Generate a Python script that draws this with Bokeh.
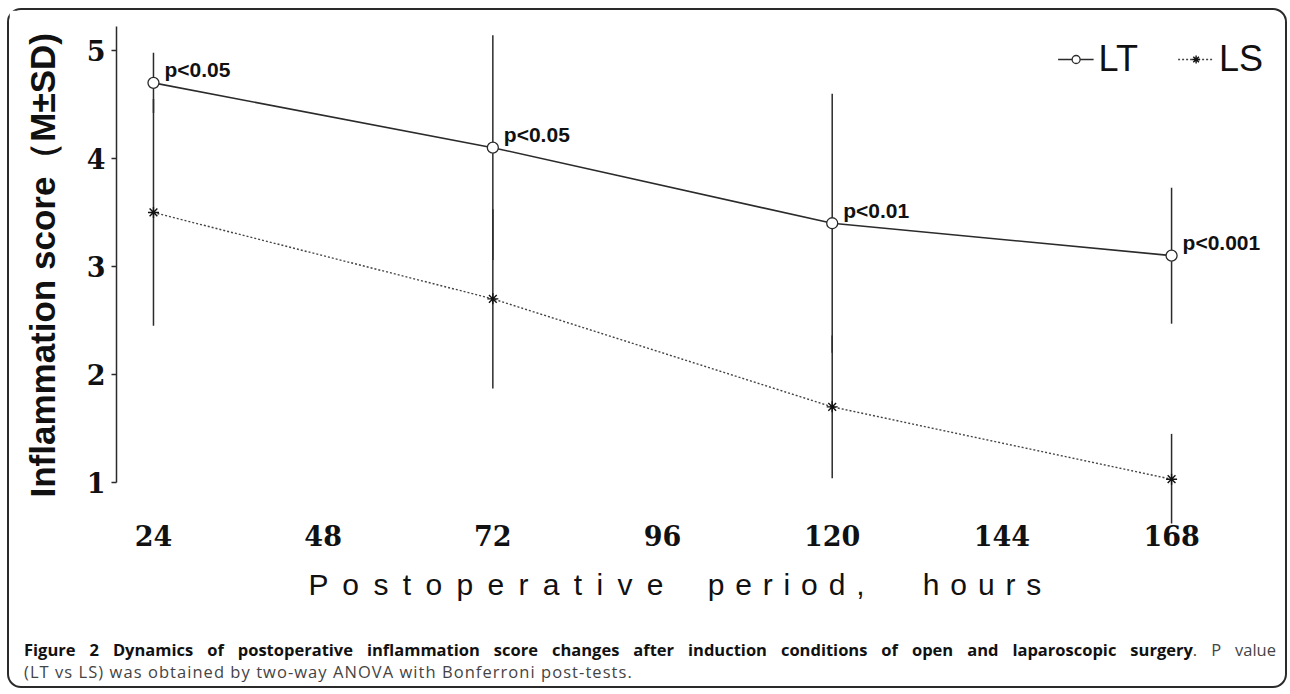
from bokeh.plotting import figure
from bokeh.models import Range1d, FixedTicker, Legend, LegendItem, Div
from bokeh.layouts import column
from bokeh.core.properties import value
from bokeh.embed import file_html
from bokeh.resources import INLINE

# ---- data ----
hours = [24, 72, 120, 168]
lt_mean = [4.7, 4.1, 3.4, 3.1]
lt_sd = [0.28, 1.04, 1.2, 0.63]
ls_mean = [3.5, 2.7, 1.7, 1.03]
ls_sd = [1.05, 0.83, 0.66, 0.42]
p_labels = ["p<0.05", "p<0.05", "p<0.01", "p<0.001"]
x_ticks = [24, 48, 72, 96, 120, 144, 168]
y_ticks = [1, 2, 3, 4, 5]

INK = "#2b2b2b"
W = 1266

p = figure(width=W, height=616, output_backend="svg", toolbar_location=None,
           x_range=Range1d(18.77, 182.7), y_range=Range1d(0.62, 5.222),
           min_border_left=107, min_border_right=0, min_border_top=16,
           min_border_bottom=103)
p.outline_line_color = None
p.grid.visible = False
p.background_fill_color = "white"
p.border_fill_color = "white"

# error bars
lt_lo = [m - s for m, s in zip(lt_mean, lt_sd)]
lt_hi = [m + s for m, s in zip(lt_mean, lt_sd)]
ls_lo = [m - s for m, s in zip(ls_mean, ls_sd)]
ls_hi = [m + s for m, s in zip(ls_mean, ls_sd)]
p.segment(x0=hours, y0=lt_lo, x1=hours, y1=lt_hi, line_color=INK, line_width=1.5)
p.segment(x0=hours, y0=ls_lo, x1=hours, y1=ls_hi, line_color=INK, line_width=1.5)

# series
lt_line = p.line(hours, lt_mean, line_color=INK, line_width=1.6)
lt_pts = p.scatter(hours, lt_mean, marker="circle", size=11, fill_color="white",
                   line_color=INK, line_width=1.3)
ls_line = p.line(hours, ls_mean, line_color="#444444", line_width=1.4, line_dash="2 2")
ls_pts = p.scatter(hours, ls_mean, marker="asterisk", size=11, line_color="#111111",
                   line_width=1.4)

# p-value labels
p.text(x=hours, y=lt_mean, text=p_labels, x_offset=11, y_offset=-13,
       text_baseline="alphabetic", text_align="left",
       text_font=value("Liberation Sans"), text_font_style="bold",
       text_font_size="21px", text_color="#111111")

# axes
p.yaxis.ticker = FixedTicker(ticks=y_ticks)
p.yaxis.bounds = (1, 5.222)
p.yaxis.axis_line_color = INK
p.yaxis.axis_line_width = 1.5
p.yaxis.major_tick_line_color = INK
p.yaxis.major_tick_line_width = 1.5
p.yaxis.major_tick_out = 5
p.yaxis.major_tick_in = 0
p.yaxis.minor_tick_line_color = None
p.yaxis.major_label_standoff = 6
p.yaxis.axis_label = "\u00a0\u00a0Inflammation score\uff08M\u00b1SD)"
p.yaxis.axis_label_text_font = "Liberation Sans"
p.yaxis.axis_label_text_font_style = "bold"
p.yaxis.axis_label_text_font_size = "35px"
p.yaxis.axis_label_text_color = "#111111"
p.yaxis.axis_label_standoff = 22

p.xaxis.ticker = FixedTicker(ticks=x_ticks)
p.xaxis.axis_line_color = None
p.xaxis.major_tick_line_color = None
p.xaxis.minor_tick_line_color = None
p.xaxis.major_label_standoff = -5
wide_gap = " \u2009"
gap = " \u200a"
x_title = (wide_gap.join("Postoperative") + "\u00a0" * 4 + gap +
           gap.join("period,") + "\u00a0" * 7 +
           gap.join("hours") + "\u00a0" * 5)
p.xaxis.axis_label = x_title
p.xaxis.axis_label_text_font = "Liberation Sans"
p.xaxis.axis_label_text_font_style = "normal"
p.xaxis.axis_label_text_font_size = "30px"
p.xaxis.axis_label_text_color = "#111111"
p.xaxis.axis_label_standoff = 19

for ax in (p.xaxis, p.yaxis):
    ax.major_label_text_font = "DejaVu Serif"
    ax.major_label_text_font_style = "bold"
    ax.major_label_text_font_size = "27px"
    ax.major_label_text_color = "#111111"

legend = Legend(items=[LegendItem(label="LT", renderers=[lt_line, lt_pts]),
                       LegendItem(label="LS", renderers=[ls_line, ls_pts])],
                orientation="horizontal", location="top_right",
                label_text_font="Liberation Sans", label_text_font_size="36px",
                label_text_color="#111111",
                glyph_width=36, glyph_height=20, label_standoff=5, spacing=40,
                padding=0, margin=12, border_line_color=None,
                background_fill_alpha=0)
p.add_layout(legend)

caption_html = (
    '<div style="font-family:\'Open Sans\',sans-serif;font-size:16.5px;line-height:22px;'
    'padding:8px 4px 0 10px;box-sizing:border-box;width:%dpx;color:#111;">'
    '<div style="text-align:justify;text-align-last:justify;white-space:nowrap;">'
    '<b>Figure 2 Dynamics of postoperative inflammation score changes after induction '
    'conditions of open and laparoscopic surgery</b>'
    '<span style="color:#444;">. P value</span></div>'
    '<div style="color:#444;letter-spacing:1.05px;">(LT vs LS) was obtained by two-way '
    'ANOVA with Bonferroni post-tests.</div>'
    '</div>' % W
)
caption = Div(text=caption_html, width=W, height=50)

layout = column(p, caption, styles={"border": "2px solid #2a2a2a",
                                    "border-radius": "14px",
                                    "background-color": "white",
                                    "margin-left": "7px",
                                    "margin-top": "8px"})

open("out.html", "w").write(file_html(layout, INLINE))
